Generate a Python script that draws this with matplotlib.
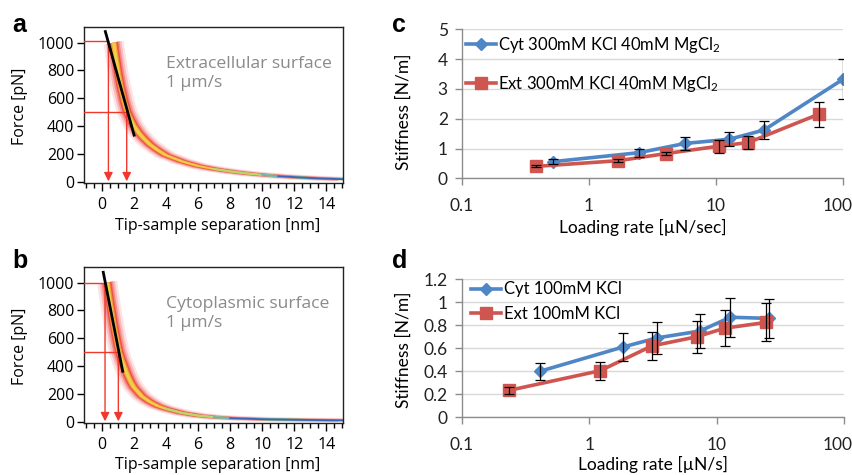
import numpy as np
import matplotlib
matplotlib.use('Agg')
import matplotlib.pyplot as plt
import matplotlib.transforms as mtransforms
from matplotlib.ticker import MultipleLocator, FixedLocator, NullLocator

plt.rcParams['font.family'] = ['Open Sans', 'DejaVu Sans']
plt.rcParams['mathtext.fontset'] = 'custom'
plt.rcParams['mathtext.rm'] = 'Lato'
plt.rcParams['mathtext.it'] = 'Lato:italic'

# ---------------- data ----------------
# Panel a: extracellular surface, mean force-separation curve (centre of density cloud)
sep_a = [0.75, 0.9, 1.05, 1.2, 1.4, 1.6, 1.8, 2.0, 2.3, 2.6, 3.0, 3.5, 4.0, 5.0, 6.0,
         7.0, 8.0, 9.0, 10.0, 11.0, 12.0, 13.0, 14.0, 15.0]
force_a = [1000, 880, 770, 680, 580, 500, 450, 405, 355, 315, 270, 228, 192, 148, 115,
           93, 76, 62, 51, 42, 35, 29, 24, 20]
fit_a_x = [0.23, 2.02]
fit_a_y = [1079, 336]
mark_a_x = [0.42, 1.56]
mark_a_y = [1010, 500]

# Panel b: cytoplasmic surface
sep_b = [0.35, 0.5, 0.65, 0.8, 0.95, 1.1, 1.25, 1.4, 1.6, 1.8, 2.0, 2.5, 3.0, 3.5, 4.0,
         5.0, 6.0, 7.0, 8.0, 10.0, 12.0, 15.0]
force_b = [1000, 880, 770, 670, 580, 500, 445, 400, 340, 290, 250, 185, 145, 115, 95,
           65, 46, 35, 28, 20, 16, 12]
fit_b_x = [0.10, 1.31]
fit_b_y = [1074, 364]
mark_b_x = [0.21, 1.04]
mark_b_y = [1000, 500]

xticks_ab = [0, 2, 4, 6, 8, 10, 12, 14]
yticks_ab = [0, 200, 400, 600, 800, 1000]

# Panel c: 300 mM KCl 40 mM MgCl2
c_cyt_x = [0.525, 2.48, 5.7, 12.7, 23.8, 100]
c_cyt_y = [0.56, 0.86, 1.17, 1.31, 1.62, 3.33]
c_cyt_err = [0.08, 0.14, 0.21, 0.23, 0.30, 0.66]
c_ext_x = [0.384, 1.70, 4.04, 10.6, 17.9, 64]
c_ext_y = [0.40, 0.59, 0.83, 1.08, 1.20, 2.15]
c_ext_err = [0.03, 0.05, 0.06, 0.22, 0.22, 0.42]
c_labels = ['Cyt 300mM KCl 40mM MgCl$_2$', 'Ext 300mM KCl 40mM MgCl$_2$']

# Panel d: 100 mM KCl
d_cyt_x = [0.41, 1.83, 3.39, 7.4, 12.8, 26]
d_cyt_y = [0.40, 0.61, 0.69, 0.75, 0.87, 0.86]
d_cyt_err = [0.075, 0.12, 0.14, 0.145, 0.17, 0.17]
d_ext_x = [0.237, 1.22, 3.1, 6.98, 11.6, 24.4]
d_ext_y = [0.235, 0.405, 0.62, 0.70, 0.775, 0.825]
d_ext_err = [0.03, 0.08, 0.12, 0.14, 0.155, 0.165]
d_labels = ['Cyt 100mM KCl', 'Ext 100mM KCl']

log_ticks = [0.1, 1, 10, 100]
log_ticklabels = ['0.1', '1', '10', '100']

BLUE = '#4f86c6'
RED = '#cf5650'
ARROW = '#f2372b'
GRAY_TXT = '#8a8a8a'

W, H = 852, 475
fig = plt.figure(figsize=(W / 100, H / 100), dpi=100)


def rect(l, t, r, b):
    return [l / W, 1 - b / H, (r - l) / W, (b - t) / H]


def cloud(ax, x, y, top):
    x = np.asarray(x, float)
    y = np.asarray(y, float)
    layers = [(0.62, 16, '#fde4e4'), (0.48, 12, '#fabcbc'), (0.36, 9, '#f48a8a'),
              (0.26, 7, '#ec5444'), (0.17, 4.5, '#f3993a'), (0.10, 3, '#efcf4a')]
    for dx, dy, col in layers:
        xs = np.concatenate([x + dx, (x - dx)[::-1]])
        ys = np.concatenate([y + dy, (y - dy)[::-1]])
        ys = np.minimum(ys, top)
        ax.fill(xs, ys, color=col, lw=0, zorder=1)


def force_panel(ax, sep, force, fit_x, fit_y, mk_x, mk_y, text, green_from, blue_from):
    cloud(ax, sep, force, 1012)
    s = np.asarray(sep)
    f = np.asarray(force)
    m = s >= green_from - 1
    ax.plot(s[m], f[m], color='#b5d86c', lw=1.6, zorder=2)
    m = s >= blue_from - 1.5
    ax.plot(s[m], f[m], color='#5cb8c9', lw=1.4, zorder=2)
    m = s >= blue_from
    ax.plot(s[m], f[m], color='#3a64b8', lw=1.3, zorder=2)
    ax.plot(fit_x, fit_y, color='black', lw=2.0, zorder=4)
    for xv, yv in zip(mk_x, mk_y):
        ax.plot([-1.1, xv], [yv, yv], color=ARROW, lw=1.0, zorder=3)
        ax.annotate('', xy=(xv, 5), xytext=(xv, yv),
                    arrowprops=dict(arrowstyle='-|>', color=ARROW, lw=1.0,
                                    mutation_scale=13, shrinkA=0, shrinkB=0),
                    zorder=3)
    ax.set_xlim(-1.1, 15.05)
    ax.set_ylim(-5, 1114)
    ax.xaxis.set_major_locator(FixedLocator(xticks_ab))
    ax.xaxis.set_minor_locator(MultipleLocator(0.5))
    ax.yaxis.set_major_locator(FixedLocator(yticks_ab))
    ax.tick_params(axis='x', which='major', direction='out', length=6, width=1,
                   labelsize=11.5, pad=4)
    ax.tick_params(axis='x', which='minor', direction='out', length=3.5, width=1)
    ax.tick_params(axis='y', which='major', direction='out', length=5, width=1,
                   labelsize=11.5, pad=2)
    for sp in ax.spines.values():
        sp.set_linewidth(1.0)
        sp.set_color('#222222')
    ax.set_ylabel('Force [pN]', fontsize=11.5)
    ax.set_xlabel('Tip-sample separation [nm]', fontsize=11.5)
    ax.text(0.318, 0.81, text, transform=ax.transAxes, color=GRAY_TXT, fontsize=12.6,
            va='top', ha='left', linespacing=1.2)


ax_a = fig.add_axes(rect(84, 26.7, 343.3, 182.7))
force_panel(ax_a, sep_a, force_a, fit_a_x, fit_a_y, mark_a_x, mark_a_y,
            'Extracellular surface\n1 µm/s', 8, 11)
ax_a.yaxis.set_label_coords(-0.245, 0.49)
ax_a.xaxis.set_label_coords(0.517, -0.275)

ax_b = fig.add_axes(rect(84, 266.7, 343.3, 422.7))
force_panel(ax_b, sep_b, force_b, fit_b_x, fit_b_y, mark_b_x, mark_b_y,
            'Cytoplasmic surface\n1 µm/s', 5, 8)
ax_b.yaxis.set_label_coords(-0.245, 0.49)
ax_b.xaxis.set_label_coords(0.517, -0.272)


def rate_panel(ax, cx, cy, ce, ex, ey, ee, labels, ylim, ystep, xlabel, leg_anchor, leg_space):
    l1, = ax.plot(cx, cy, color=BLUE, lw=2.6, marker='D', ms=6.5, mec=BLUE, zorder=3,
                  label=labels[0])
    ax.errorbar(cx, cy, yerr=ce, fmt='none', ecolor='black', elinewidth=0.9, capsize=3.5,
                capthick=0.9, zorder=4)
    l2, = ax.plot(ex, ey, color=RED, lw=2.6, marker='s', ms=8.5, mec=RED, zorder=3,
                  label=labels[1])
    ax.errorbar(ex, ey, yerr=ee, fmt='none', ecolor='black', elinewidth=0.9, capsize=3.5,
                capthick=0.9, zorder=4)
    ax.set_xscale('log')
    ax.set_xlim(0.1, 100)
    ax.set_ylim(*ylim)
    ax.xaxis.set_major_locator(FixedLocator(log_ticks))
    ax.xaxis.set_minor_locator(NullLocator())
    ax.set_xticklabels(log_ticklabels)
    yt = np.arange(0, ylim[1] + 1e-9, ystep)
    ax.yaxis.set_major_locator(FixedLocator(yt))
    ax.set_yticklabels(['%g' % v for v in yt])
    ax.grid(axis='y', color='#d9d9d9', lw=1.0, zorder=0)
    ax.set_axisbelow(True)
    for s in ['top', 'right']:
        ax.spines[s].set_visible(False)
    for s in ['left', 'bottom']:
        ax.spines[s].set_color('#8c8c8c')
        ax.spines[s].set_linewidth(1.0)
    ax.tick_params(axis='both', direction='out', length=5, width=1, color='#8c8c8c',
                   labelsize=12.5, labelcolor='#222222')
    ax.tick_params(axis='y', pad=5)
    ax.tick_params(axis='x', pad=9)
    for lab in ax.get_xticklabels() + ax.get_yticklabels():
        lab.set_fontfamily('Lato')
    last = ax.get_xticklabels()[-1]
    last.set_transform(last.get_transform() +
                       mtransforms.ScaledTranslation(-6 / 100, 0, fig.dpi_scale_trans))
    ax.set_ylabel('Stiffness [N/m]', fontsize=12.5, family='Lato')
    ax.set_xlabel(xlabel, fontsize=12.5, family='Lato')
    leg = ax.legend([l1, l2], labels, loc='upper left', bbox_to_anchor=leg_anchor,
                    frameon=False, prop={'family': 'Lato', 'size': 12},
                    handlelength=1.8, handletextpad=0.15, labelspacing=leg_space,
                    borderaxespad=0, borderpad=0)
    return leg


ax_c = fig.add_axes(rect(461.7, 29.3, 843.3, 178.3))
rate_panel(ax_c, c_cyt_x, c_cyt_y, c_cyt_err, c_ext_x, c_ext_y, c_ext_err, c_labels,
           (0, 5), 1, 'Loading rate [µN/sec]', (0.01, 0.965), 1.15)
ax_c.yaxis.set_label_coords(-0.152, 0.45)
ax_c.xaxis.set_label_coords(0.475, -0.332)

ax_d = fig.add_axes(rect(461.7, 279.3, 844, 417.3))
rate_panel(ax_d, d_cyt_x, d_cyt_y, d_cyt_err, d_ext_x, d_ext_y, d_ext_err, d_labels,
           (0, 1.2), 0.2, 'Loading rate [µN/s]', (0.025, 0.985), 0.5)
ax_d.yaxis.set_label_coords(-0.152, 0.49)
ax_d.xaxis.set_label_coords(0.50, -0.345)

for ax in (ax_a, ax_b, ax_c, ax_d):
    ax.xaxis.label.set_va('center')
    ax.yaxis.label.set_va('center')

for lab, x, y in [('a', 12, 32), ('b', 12, 268), ('c', 392, 32), ('d', 392, 268)]:
    fig.text(x / W, 1 - y / H, lab, fontsize=18, fontweight='bold',
             family='Liberation Sans', va='baseline', ha='left')

fig.savefig('out.png', dpi=100)
